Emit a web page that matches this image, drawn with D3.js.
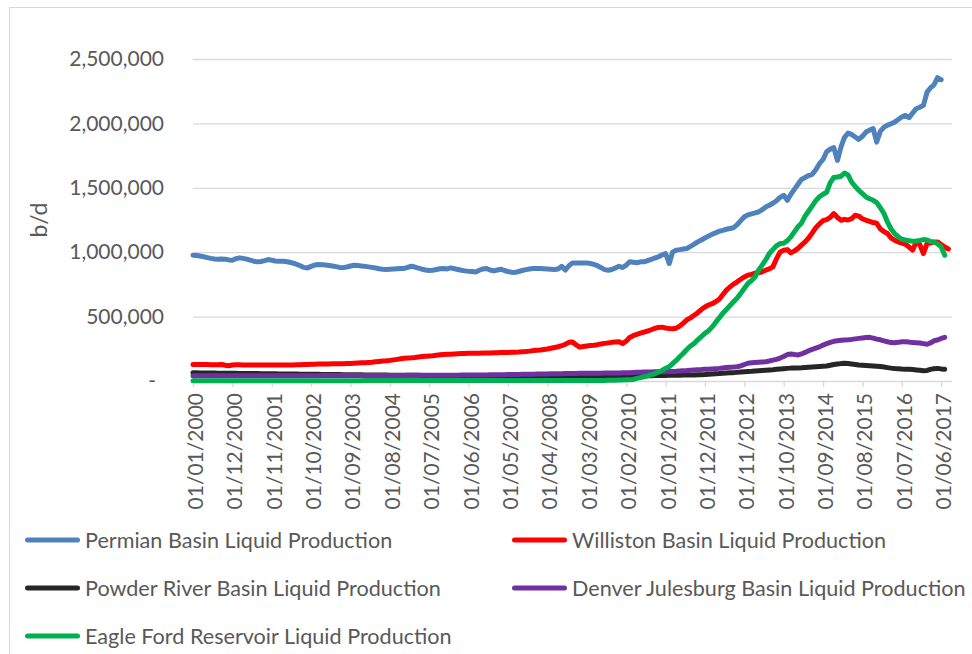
<!DOCTYPE html>
<html><head><meta charset="utf-8">
<script src="https://cdn.jsdelivr.net/npm/d3@7"></script>
<style>body{margin:0;background:#fff}svg{display:block}</style>
</head><body><svg id="c" width="972" height="654"></svg>
<script>
// ---- data (thousand barrels per day, monthly from Jan 2000) ----
const startMonth = "2000-01-01";
const tickLabels = ["01/01/2000","01/12/2000","01/11/2001","01/10/2002","01/09/2003","01/08/2004","01/07/2005","01/06/2006","01/05/2007","01/04/2008","01/03/2009","01/02/2010","01/01/2011","01/12/2011","01/11/2012","01/10/2013","01/09/2014","01/08/2015","01/07/2016","01/06/2017"];
const yTicks = [0, 500000, 1000000, 1500000, 2000000, 2500000];
const seriesNames = ["Permian Basin Liquid Production","Williston Basin Liquid Production","Powder River Basin Liquid Production","Denver Julesburg Basin Liquid Production","Eagle Ford Reservoir Liquid Production"];
const seriesColors = ["#4f81bd","#ff0000","#262626","#7030a0","#00b050"];

const permian = [
 977,975,970,965,958,952,947,945,948,946,940,938,
 950,956,952,946,938,930,925,928,935,943,938,932,
 930,930,928,922,915,905,895,882,878,890,900,905,
 903,900,897,893,888,882,880,885,893,899,896,893,
 890,886,882,877,872,868,866,868,870,872,874,874,
 883,891,885,876,868,862,858,860,866,872,874,870,
 878,872,866,860,855,852,850,847,860,870,874,862,
 855,862,868,858,850,845,843,850,858,865,870,873,
 874,874,872,870,868,866,870,891,862,895,917,917,
 917,917,917,912,905,895,880,865,860,866,878,891,
 881,900,925,922,918,925,925,935,945,955,964,978,
 990,912,1000,1016,1020,1025,1029,1045,1062,1080,1095,1110,
 1125,1140,1150,1163,1170,1178,1184,1190,1215,1245,1275,1290,
 1298,1305,1312,1330,1351,1365,1380,1400,1425,1442,1403,1450,
 1490,1530,1565,1580,1595,1605,1640,1687,1720,1780,1800,1812,
 1713,1820,1890,1925,1915,1895,1876,1900,1933,1948,1959,1855,
 1940,1971,1985,1998,2010,2030,2050,2062,2044,2080,2114,2125,
 2140,2243,2275,2300,2355,2339];

const williston = [
 129,129,128,128,128,127,127,127,128,122,118,124,
 126,126,125,125,125,125,125,125,125,125,125,125,
 124,124,124,124,125,126,127,128,129,130,131,132,
 132,132,132,133,133,134,134,135,136,138,140,141,
 142,144,146,149,152,155,157,160,164,168,172,176,
 178,180,183,187,190,193,195,196,200,203,206,207,
 208,210,212,213,214,215,215,216,216,217,217,218,
 219,220,221,222,222,223,224,225,227,229,232,236,
 238,240,244,248,254,260,266,274,285,300,303,280,
 263,268,272,275,278,282,288,292,296,300,303,305,
 290,310,338,352,362,372,380,388,398,408,416,418,
 412,408,405,410,426,450,475,490,510,530,555,575,
 590,600,615,635,670,705,730,752,770,790,808,822,
 828,838,840,848,860,870,886,950,1002,1015,1020,995,
 1010,1030,1055,1080,1110,1150,1190,1220,1245,1253,1270,1300,
 1270,1248,1255,1250,1260,1287,1280,1260,1248,1240,1230,1225,
 1180,1160,1145,1110,1093,1080,1070,1062,1040,1016,1080,1060,
 990,1067,1072,1078,1080,1060,1040,1025];

const powderRiver = [
 64,64,63,63,62,62,62,61,61,61,60,60,
 60,59,59,59,58,58,58,57,57,57,56,56,
 55,55,55,54,54,54,53,53,53,52,52,52,
 51,51,51,50,50,50,49,49,49,48,48,48,
 47,47,47,46,46,46,46,45,45,45,45,45,
 44,44,44,44,43,43,43,43,42,42,42,42,
 41,41,41,41,41,40,40,40,40,40,40,40,
 39,39,39,39,39,39,38,38,38,38,38,38,
 38,38,38,37,37,37,37,37,37,37,37,37,
 37,37,37,37,37,37,37,37,37,38,38,38,
 38,38,38,39,39,40,40,41,41,42,42,43,
 43,44,44,45,45,46,46,47,47,48,49,50,
 53,55,57,58,60,62,64,65,67,69,71,73,
 75,78,80,82,84,86,88,91,94,96,98,100,
 100,101,102,104,106,108,110,112,114,116,122,128,
 132,135,137,136,132,128,124,122,120,118,116,114,
 112,108,104,100,97,95,93,92,91,89,86,83,
 80,82,90,96,98,94,91];

const denverJulesburg = [
 40,40,40,40,40,40,40,40,40,40,40,40,
 40,40,40,40,40,40,40,40,40,40,40,40,
 41,41,41,41,41,41,41,41,41,41,41,41,
 42,42,42,42,42,42,42,42,42,42,42,42,
 43,43,43,43,43,43,43,43,43,43,43,43,
 44,44,44,44,44,44,44,44,44,44,44,44,
 45,45,45,46,46,46,46,47,47,47,47,48,
 48,48,49,49,50,50,51,51,52,52,53,53,
 54,54,55,55,56,56,57,57,58,58,59,59,
 60,60,60,60,61,61,61,62,62,62,63,63,
 64,64,65,66,67,68,69,70,70,71,71,72,
 72,73,74,75,77,79,81,84,86,88,89,91,
 92,94,96,98,101,104,106,108,111,118,128,138,
 142,144,146,148,150,155,162,168,178,190,205,209,
 205,202,210,222,235,246,255,265,279,290,300,308,
 312,316,318,320,323,327,331,334,337,339,333,325,
 320,312,305,298,297,300,305,305,302,298,297,295,
 290,285,295,312,318,330,339];

const eagleFord = [
 2,2,2,2,2,2,2,2,2,2,2,2,
 2,2,2,2,2,2,2,2,2,2,2,2,
 2,2,2,2,2,2,2,2,2,2,2,2,
 2,2,2,2,2,2,2,2,2,2,2,2,
 3,3,3,3,3,3,3,3,3,3,3,3,
 3,3,3,3,3,3,3,3,3,3,3,3,
 3,3,3,3,3,3,3,3,3,3,3,3,
 3,3,3,3,3,3,3,3,3,3,3,3,
 3,3,3,3,3,3,3,3,3,3,3,3,
 3,3,3,3,3,4,4,4,5,5,6,7,
 8,9,10,12,20,26,33,40,48,56,70,82,
 98,111,135,160,188,215,245,272,292,320,345,370,
 390,420,455,490,525,555,585,615,645,680,720,757,
 780,810,860,900,940,990,1020,1050,1067,1070,1090,1119,
 1160,1200,1225,1280,1320,1360,1400,1430,1450,1465,1540,1580,
 1584,1590,1615,1600,1545,1510,1481,1455,1429,1415,1403,1385,
 1345,1300,1235,1180,1145,1120,1101,1095,1090,1085,1087,1092,
 1098,1095,1083,1080,1065,1041,977];

const seriesValues = [permian, williston, powderRiver, denverJulesburg, eagleFord];

// ---- drawing ----
const svg = d3.select("#c");
const FONT = "Lato, 'Open Sans', sans-serif";
const TXT = "#595959";
const GRID = "#d9d9d9";

svg.append("rect").attr("x",9.5).attr("y",7.5).attr("width",980).attr("height",680)
  .attr("fill","none").attr("stroke",GRID).attr("stroke-width",1);

const start = d3.timeParse("%Y-%m-%d")(startMonth);
const parseTick = d3.timeParse("%d/%m/%Y");
const tickDates = tickLabels.map(parseTick);
const x = d3.scaleTime().domain([start, d3.timeMonth.offset(start, 212)]).range([193, 952]);
const y = d3.scaleLinear().domain([0, 2500000]).range([381, 59]);

// y axis with gridlines
const yAxis = d3.axisLeft(y).tickValues(yTicks)
  .tickSize(-(952-193)).tickPadding(29)
  .tickFormat(d => d === 0 ? "-" : d3.format(",")(d));
const gy = svg.append("g").attr("transform","translate(193,0)").call(yAxis);
gy.select(".domain").remove();
gy.selectAll(".tick line").attr("stroke",GRID).attr("stroke-width",1.3)
  .filter(d => d === 0).remove();
gy.selectAll(".tick text").attr("fill",TXT).style("font-family",FONT).style("font-size","21px")
  .attr("dx", d => d === 0 ? -8 : 0);

// x axis
const xAxis = d3.axisBottom(x).tickValues(tickDates).tickSize(6).tickPadding(0)
  .tickFormat(d3.timeFormat("%d/%m/%Y"));
const gx = svg.append("g").attr("transform","translate(0,381)").call(xAxis);
gx.select(".domain").attr("stroke",GRID).attr("stroke-width",1.3).attr("d","M193,0.5H952");
gx.selectAll(".tick line").attr("stroke",GRID).attr("stroke-width",1.3);
gx.selectAll(".tick text").attr("fill",TXT).style("font-family",FONT).style("font-size","21px")
  .attr("y",0).attr("dy",0)
  .attr("text-anchor","end").attr("dominant-baseline","central")
  .attr("transform","translate(1,12) rotate(-90)");

// y title
svg.append("text").attr("transform","translate(38,220) rotate(-90)")
  .attr("text-anchor","middle").attr("dominant-baseline","central")
  .attr("fill",TXT).style("font-family",FONT).style("font-size","23px").text("b/d");

// lines
const line = d3.line()
  .x((d,i) => x(d3.timeMonth.offset(start, i)))
  .y(d => y(d * 1000));
seriesValues.forEach((vals, k) => {
  svg.append("path").datum(vals).attr("d", line)
    .attr("fill","none").attr("stroke",seriesColors[k]).attr("stroke-width",5)
    .attr("stroke-linejoin","round").attr("stroke-linecap","round");
});

// legend
const legendPos = [[25,540],[512,540],[25,588],[512,588],[25,636]];
seriesNames.forEach((name, k) => {
  const [lx, ly] = legendPos[k];
  const g = svg.append("g").attr("transform",`translate(${lx},${ly})`);
  g.append("line").attr("x1",2.5).attr("x2",52.5).attr("y1",0).attr("y2",0)
    .attr("stroke",seriesColors[k]).attr("stroke-width",5).attr("stroke-linecap","round");
  g.append("text").attr("x",60).attr("y",0).attr("dominant-baseline","central")
    .attr("fill",TXT).style("font-family",FONT).style("font-size","21.6px").text(name);
});
</script></body></html>
